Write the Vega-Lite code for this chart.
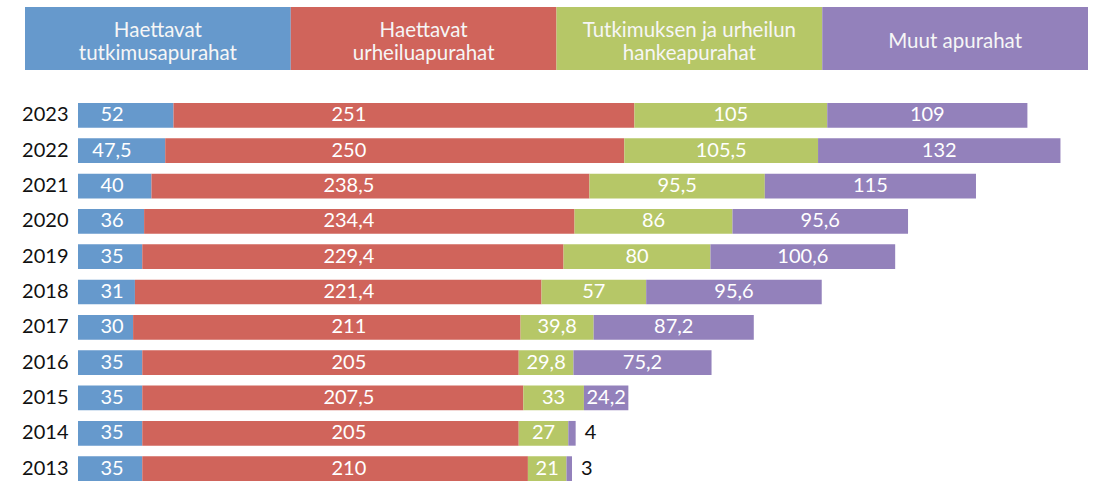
{
  "$schema": "https://vega.github.io/schema/vega-lite/v6.json",
  "width": 1063,
  "height": 476,
  "autosize": {"type": "none"},
  "padding": {"left": 25, "top": 7, "right": 15, "bottom": 0},
  "config": {
    "view": {"stroke": null},
    "font": "Lato",
    "locale": {"number": {"decimal": ",", "thousands": "\u00a0", "grouping": [3], "currency": ["", "\u00a0€"]}}
  },
  "datasets": {
    "apurahat": [
      {"year": "2023", "s": "A", "v": 52}, {"year": "2023", "s": "B", "v": 251}, {"year": "2023", "s": "C", "v": 105}, {"year": "2023", "s": "D", "v": 109},
      {"year": "2022", "s": "A", "v": 47.5}, {"year": "2022", "s": "B", "v": 250}, {"year": "2022", "s": "C", "v": 105.5}, {"year": "2022", "s": "D", "v": 132},
      {"year": "2021", "s": "A", "v": 40}, {"year": "2021", "s": "B", "v": 238.5}, {"year": "2021", "s": "C", "v": 95.5}, {"year": "2021", "s": "D", "v": 115},
      {"year": "2020", "s": "A", "v": 36}, {"year": "2020", "s": "B", "v": 234.4}, {"year": "2020", "s": "C", "v": 86}, {"year": "2020", "s": "D", "v": 95.6},
      {"year": "2019", "s": "A", "v": 35}, {"year": "2019", "s": "B", "v": 229.4}, {"year": "2019", "s": "C", "v": 80}, {"year": "2019", "s": "D", "v": 100.6},
      {"year": "2018", "s": "A", "v": 31}, {"year": "2018", "s": "B", "v": 221.4}, {"year": "2018", "s": "C", "v": 57}, {"year": "2018", "s": "D", "v": 95.6},
      {"year": "2017", "s": "A", "v": 30}, {"year": "2017", "s": "B", "v": 211}, {"year": "2017", "s": "C", "v": 39.8}, {"year": "2017", "s": "D", "v": 87.2},
      {"year": "2016", "s": "A", "v": 35}, {"year": "2016", "s": "B", "v": 205}, {"year": "2016", "s": "C", "v": 29.8}, {"year": "2016", "s": "D", "v": 75.2},
      {"year": "2015", "s": "A", "v": 35}, {"year": "2015", "s": "B", "v": 207.5}, {"year": "2015", "s": "C", "v": 33}, {"year": "2015", "s": "D", "v": 24.2},
      {"year": "2014", "s": "A", "v": 35}, {"year": "2014", "s": "B", "v": 205}, {"year": "2014", "s": "C", "v": 27}, {"year": "2014", "s": "D", "v": 4},
      {"year": "2013", "s": "A", "v": 35}, {"year": "2013", "s": "B", "v": 210}, {"year": "2013", "s": "C", "v": 21}, {"year": "2013", "s": "D", "v": 3}
    ],
    "selite": [
      {"s": "A", "label": "Haettavat\ntutkimusapurahat"},
      {"s": "B", "label": "Haettavat\nurheiluapurahat"},
      {"s": "C", "label": "Tutkimuksen ja urheilun\nhankeapurahat"},
      {"s": "D", "label": "Muut apurahat"}
    ]
  },
  "layer": [
    {
      "data": {"name": "selite"},
      "encoding": {
        "x": {"field": "s", "type": "nominal", "scale": {"domain": ["A", "B", "C", "D"], "paddingInner": 0, "paddingOuter": 0}, "axis": null},
        "y": {"datum": "selite", "type": "nominal", "scale": {"domain": ["selite"], "range": [0, 63], "paddingInner": 0, "paddingOuter": 0}, "axis": null}
      },
      "layer": [
        {
          "mark": {"type": "rect"},
          "encoding": {
            "color": {"field": "s", "type": "nominal", "scale": {"domain": ["A", "B", "C", "D"], "range": ["#6699cc", "#d0645b", "#b6c767", "#9381bb"]}, "legend": null}
          }
        },
        {
          "transform": [{"filter": "indexof(datum.label, '\\n') >= 0"}],
          "mark": {"type": "text", "color": "#f6f6f6", "fontSize": 20.5, "lineBreak": "\n", "lineHeight": 23, "align": "center", "baseline": "middle", "dy": -7.5},
          "encoding": {"text": {"field": "label", "type": "nominal"}}
        },
        {
          "transform": [{"filter": "indexof(datum.label, '\\n') < 0"}],
          "mark": {"type": "text", "color": "#f6f6f6", "fontSize": 20.5, "align": "center", "baseline": "middle", "dy": 3},
          "encoding": {"text": {"field": "label", "type": "nominal"}}
        }
      ]
    },
    {
      "data": {"name": "apurahat"},
      "transform": [
        {"stack": "v", "groupby": ["year"], "sort": [{"field": "s", "order": "ascending"}], "as": ["x0", "x1"]}
      ],
      "encoding": {
        "y": {"field": "year", "type": "nominal",
              "scale": {"domain": ["2023", "2022", "2021", "2020", "2019", "2018", "2017", "2016", "2015", "2014", "2013"], "range": [96, 474], "paddingInner": 0.3, "paddingOuter": 0},
              "axis": {"title": null, "domain": false, "ticks": false, "offset": -53, "labelPadding": 10, "labelFontSize": 20, "labelColor": "#111111", "labelFont": "Lato"}}
      },
      "layer": [
        {
          "mark": {"type": "bar"},
          "encoding": {
            "x": {"field": "x0", "type": "quantitative", "scale": {"domain": [0, 550], "range": [53, 1063], "nice": false, "zero": false}, "axis": null},
            "x2": {"field": "x1"},
            "color": {"field": "s", "type": "nominal", "legend": null}
          }
        },
        {
          "transform": [{"filter": "datum.s === 'A'"}],
          "mark": {"type": "text", "color": "white", "fontSize": 20, "align": "center", "baseline": "middle"},
          "encoding": {
            "x": {"datum": 18.5, "type": "quantitative", "scale": {"domain": [0, 550], "range": [53, 1063], "nice": false, "zero": false}, "axis": null},
            "text": {"field": "v", "type": "quantitative", "format": "~g"}
          }
        },
        {
          "transform": [{"filter": "datum.s === 'B'"}],
          "mark": {"type": "text", "color": "white", "fontSize": 20, "align": "center", "baseline": "middle"},
          "encoding": {
            "x": {"datum": 147.5, "type": "quantitative", "scale": {"domain": [0, 550], "range": [53, 1063], "nice": false, "zero": false}, "axis": null},
            "text": {"field": "v", "type": "quantitative", "format": "~g"}
          }
        },
        {
          "transform": [
            {"filter": "(datum.s === 'C' || datum.s === 'D') && datum.v >= 5"},
            {"fold": ["x0", "x1"], "as": ["k", "pos"]},
            {"aggregate": [{"op": "mean", "field": "pos", "as": "mid"}], "groupby": ["year", "s", "v"]}
          ],
          "mark": {"type": "text", "color": "white", "fontSize": 20, "align": "center", "baseline": "middle"},
          "encoding": {
            "x": {"field": "mid", "type": "quantitative", "scale": {"domain": [0, 550], "range": [53, 1063], "nice": false, "zero": false}, "axis": null},
            "text": {"field": "v", "type": "quantitative", "format": "~g"}
          }
        },
        {
          "transform": [{"filter": "datum.v < 5"}],
          "mark": {"type": "text", "color": "#111111", "fontSize": 20, "align": "left", "baseline": "middle", "dx": 9},
          "encoding": {
            "x": {"field": "x1", "type": "quantitative", "scale": {"domain": [0, 550], "range": [53, 1063], "nice": false, "zero": false}, "axis": null},
            "text": {"field": "v", "type": "quantitative", "format": "~g"}
          }
        }
      ]
    }
  ],
  "resolve": {"scale": {"x": "independent", "y": "independent"}}
}
